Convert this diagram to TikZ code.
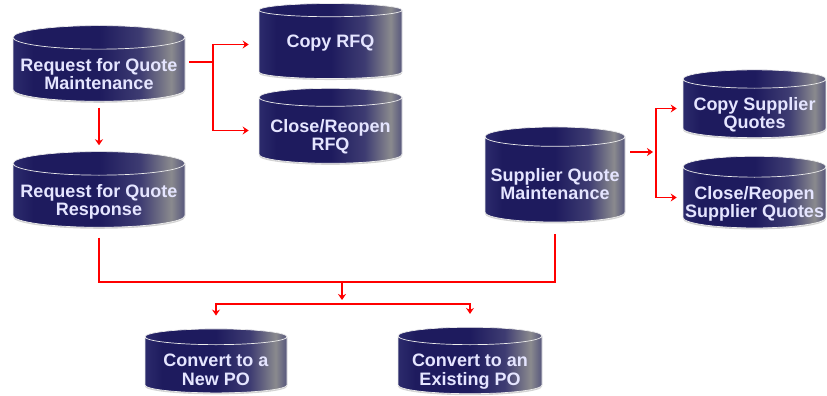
\documentclass[tikz,border=0pt]{standalone}
\usepackage{fontspec}
\setmainfont{Liberation Sans}
\usetikzlibrary{shapes.geometric,arrows.meta,shadows}
\definecolor{navyedge}{HTML}{2C2B6C}
\definecolor{navydark}{HTML}{1E1B5E}
\definecolor{navymid}{HTML}{3E3C72}
\definecolor{slategrey}{HTML}{8A8A8E}
\definecolor{navyend}{HTML}{56567C}
\pgfdeclarehorizontalshading{cylbody}{100bp}{color(0bp)=(navyedge); color(25bp)=(navyedge); color(31bp)=(navydark); color(50bp)=(navydark); color(62bp)=(navymid); color(71bp)=(slategrey); color(75bp)=(navyend); color(100bp)=(navyend)}
\tikzset{
  store/.style={cylinder, shape border rotate=90, aspect=0.15, shade, shading=cylbody,
    draw=white!85!gray, line width=0.7pt, text=white!90!blue, align=center, inner sep=0pt,
    text height=27pt, text depth=21pt,
    drop shadow={shadow xshift=0pt, shadow yshift=-1.5pt, opacity=0.35},
    font=\bfseries\fontsize{18}{18.5}\selectfont},
  twoline/.style={text height=40pt, text depth=-3pt},
  wire/.style={draw=red, line width=1.2pt},
  link/.style={wire, -{Stealth[length=6pt,width=8pt,inset=2pt]}}
}
\begin{document}
\begin{tikzpicture}[x = 1pt, y = -1pt]
\useasboundingbox (0,0) rectangle (827,396);
% quote requests
\node[store, twoline, minimum width=172pt, minimum height=75pt] (RFQM) at (99,69.5) {Request for Quote\\Maintenance};
\node[store, twoline, minimum width=172pt, minimum height=75pt] (RFQR) at (99,195.5) {Request for Quote\\Response};
\node[store, minimum width=143pt, minimum height=75pt] (CopyRFQ) at (330.5,44.5) {Copy RFQ};
\node[store, twoline, minimum width=143pt, minimum height=75pt] (CloseRFQ) at (330.5,130.5) {Close/Reopen\\RFQ};
% supplier quotes
\node[store, twoline, minimum width=140pt, minimum height=95pt] (SQM) at (555,179.5) {Supplier Quote\\Maintenance};
\node[store, twoline, minimum width=143pt, minimum height=63pt] (CopySQ) at (754.5,108.5) {Copy Supplier\\Quotes};
\node[store, twoline, minimum width=143pt, minimum height=65pt] (CloseSQ) at (754.5,197.5) {Close/Reopen\\Supplier Quotes};
% purchase orders
\node[store, twoline, minimum width=142pt, minimum height=62pt] (NewPO) at (216,365) {Convert to a\\New PO};
\node[store, twoline, minimum width=144pt, minimum height=62pt] (ExistPO) at (470,365) {Convert to an\\Existing PO};
\coordinate (rfqsplit) at (213,62);
\coordinate (sqsplit) at (656,152);
\coordinate (merge) at (342,282);
\coordinate (fork) at (342,304);
\draw[wire, shorten <=4pt] (RFQM.east |- rfqsplit) -- (rfqsplit);
\draw[link, shorten >=10pt] (rfqsplit) |- (CopyRFQ.west);
\draw[link, shorten >=10pt] (rfqsplit) |- (CloseRFQ.west);
\draw[link, shorten <=6pt, shorten >=6pt] (RFQM.south) -- (RFQR.north);
\draw[link, shorten <=5pt, shorten >=3pt] (SQM.east |- sqsplit) -- (sqsplit);
\draw[link, shorten >=6pt] (sqsplit) |- (CopySQ.west);
\draw[link, shorten >=6pt] (sqsplit) |- (CloseSQ.west);
\draw[wire, shorten <=10pt, shorten >=12pt] (RFQR.south) |- (merge) -| (SQM.south);
\draw[link, shorten >=4pt] (merge) -- (fork);
\draw[link, shorten >=13pt] (fork) -| (NewPO.north);
\draw[link, shorten >=13pt] (fork) -| (ExistPO.north);
\end{tikzpicture}
\end{document}
